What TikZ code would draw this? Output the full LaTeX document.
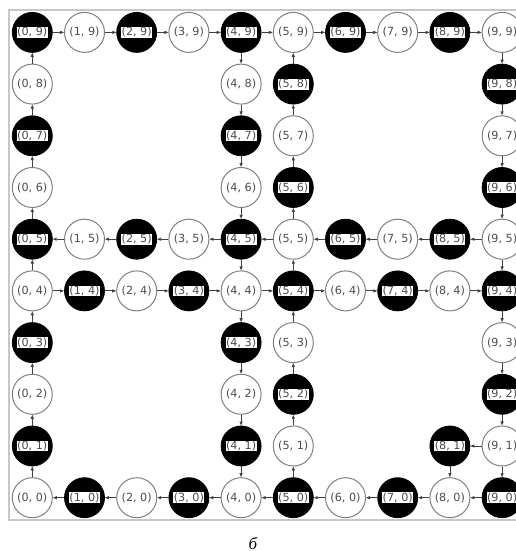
\documentclass[tikz,border=0pt]{standalone}
\usepackage{fontspec}
\newfontfamily\lblfont{DejaVu Sans}
\newfontfamily\capfont{Liberation Serif}
\usetikzlibrary{arrows.meta}
\definecolor{edgegray}{gray}{0.25}
\definecolor{rimgray}{gray}{0.5}
\definecolor{framegray}{gray}{0.78}
\definecolor{textgray}{gray}{0.3}
\setlength{\fboxsep}{0.5pt}\setlength{\fboxrule}{0.9pt}
% one vertex of the grid, black when x+y is odd
\newcommand\gridcell[2]{%
  \pgfmathtruncatemacro\oddcell{mod(#1+#2,2)}%
  \ifnum\oddcell=1
    \node[lit] (p#1-#2) at (#1,#2) {\fcolorbox{black}{white}{(#1, #2)}};
  \else
    \node[unlit] (p#1-#2) at (#1,#2) {(#1, #2)};
  \fi}

\begin{document}
\begin{tikzpicture}[x=52.2pt,y=51.7pt,font=\lblfont\fontsize{11.2}{13}\selectfont,
  cellbase/.style={circle,minimum size=40pt,inner sep=0pt,text=textgray},
  lit/.style={cellbase,fill=black,draw=black,line width=0.8pt},
  unlit/.style={cellbase,fill=white,draw=rimgray,line width=1pt},
  edge/.style={draw=edgegray,line width=0.8pt,-{Triangle[length=4pt,width=3pt]}}]
  \useasboundingbox (-32.3pt,-53.3pt) rectangle (482.7pt,497.7pt);
  \draw[framegray,line width=1.2pt] (-23.3pt,-22.3pt) rectangle (505pt,487.7pt);
  % vertices
  \foreach \y in {0,4,5,9}
    \foreach \x in {0,...,9}
      \gridcell{\x}{\y};
  \foreach \x in {0,4,5,9}
    \foreach \y in {1,2,3,6,7,8}
      \gridcell{\x}{\y};
  \gridcell{8}{1};
  % directed edges
  \foreach \i [evaluate=\i as \j using int(\i+1)] in {0,...,8}{
    \draw[edge] (p\i-9) -- (p\j-9);
    \draw[edge] (p\i-4) -- (p\j-4);
    \draw[edge] (p\j-5) -- (p\i-5);
    \draw[edge] (p\j-0) -- (p\i-0);
    \draw[edge] (p0-\i) -- (p0-\j);
    \draw[edge] (p5-\i) -- (p5-\j);
    \draw[edge] (p4-\j) -- (p4-\i);
    \draw[edge] (p9-\j) -- (p9-\i);
  }
  \draw[edge] (p9-1) -- (p8-1);
  \draw[edge] (p8-1) -- (p8-0);
  \node[font=\capfont\itshape\fontsize{17}{19}\selectfont] (caption) at (220.7pt,-45.3pt) {б};
\end{tikzpicture}
\end{document}
